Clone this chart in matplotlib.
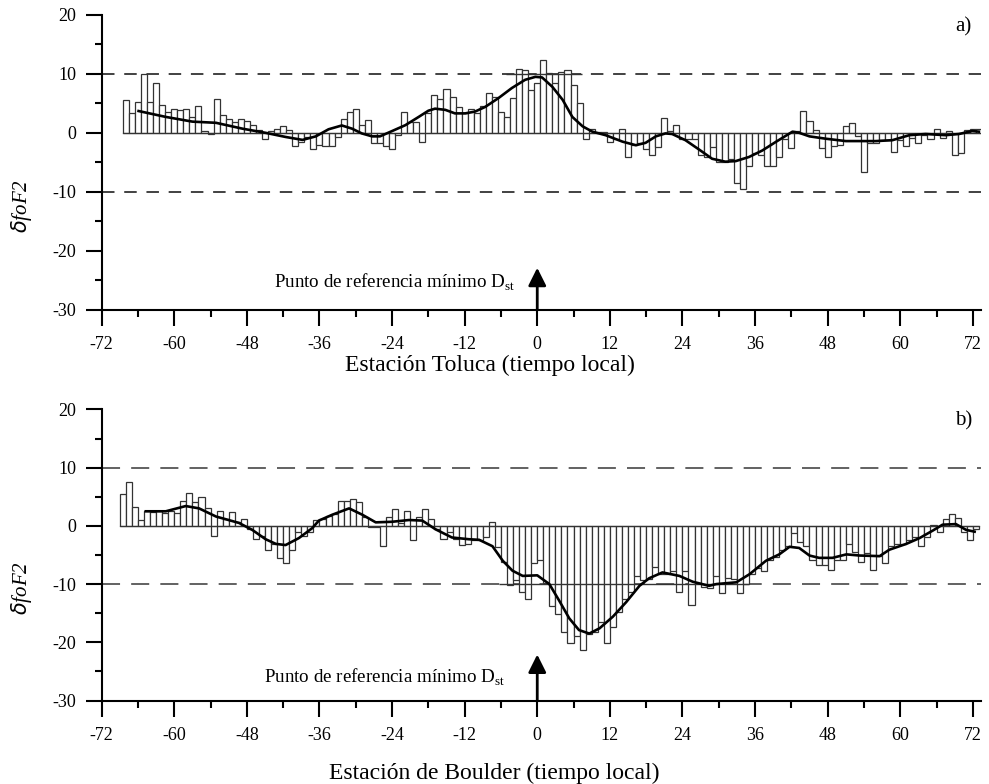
import numpy as np
import matplotlib
matplotlib.use("Agg")
import matplotlib.pyplot as plt

plt.rcParams["font.family"] = ["Liberation Serif", "DejaVu Serif"]
plt.rcParams["mathtext.fontset"] = "custom"
plt.rcParams["mathtext.rm"] = "Liberation Serif"
plt.rcParams["axes.unicode_minus"] = False
plt.rcParams["lines.scale_dashes"] = False

# ---- panel a: Toluca, hourly deviations (bars centred on the hour) ----
hours_a = np.arange(-68, 74)
dfof2_a = [
    5.5, 3.3, 5.3, 10.0, 5.3, 8.5, 4.7, 3.5, 4.1, 3.9,
    4.1, 2.7, 4.5, 0.3, -0.2, 5.7, 3.1, 2.3, 1.9, 2.3,
    2.0, 1.25, 0.5, -1.1, 0.3, 0.7, 1.1, 0.5, -2.3, -1.5,
    -0.7, -2.7, -2.1, -2.3, -2.3, -0.7, 2.3, 3.5, 4.1, 1.3,
    2.1, -1.7, -1.8, -2.3, -2.7, -0.3, 3.5, 1.9, 1.8, -1.6,
    3.3, 6.4, 5.7, 7.5, 6.1, 4.3, 3.3, 4.0, 3.3, 4.5,
    6.7, 6.1, 3.5, 2.7, 5.9, 10.9, 10.7, 7.2, 8.5, 12.4,
    10.1, 8.5, 10.3, 10.7, 8.1, 5.0, -1.0, 0.7, 0.2, 0.2,
    -1.5, -1.0, 0.7, -4.1, -2.1, -1.8, -2.7, -3.7, -2.4, 2.6,
    0.3, 1.3, -1.0, -1.0, -1.0, -3.8, -4.1, -2.4, -4.9, -4.9,
    -4.5, -8.5, -9.5, -5.7, -3.4, -3.8, -5.7, -5.7, -4.1, -1.0,
    -2.5, 0.3, 3.75, 2.0, 0.45, -2.5, -4.1, -2.3, -2.1, 1.1,
    1.6, -0.5, -6.6, -1.8, -1.8, -1.2, -1.2, -3.2, -1.2, -2.3,
    -0.8, -1.7, -0.3, -1.0, 0.6, -0.8, 0.3, -3.7, -3.5, 0.5,
    0.7, 0.6,
]
smooth_a_h = [
    -65.9, -61.4, -57.0, -53.1, -48.7, -44.9, -41.6, -38.8, -36.6, -34.5,
    -32.3, -30.6, -29.0, -27.3, -26.0, -24.0, -21.8, -19.6, -18.0, -16.9,
    -15.2, -13.6, -11.9, -10.3, -8.6, -6.4, -4.2, -2.0, -0.3, 0.8,
    2.5, 4.2, 5.8, 7.5, 9.1, 11.3, 14.1, 16.3, 17.9, 19.6,
    21.2, 22.3, 24.5, 26.7, 28.9, 31.1, 32.8, 35.0, 37.2, 39.5,
    42.2, 43.3, 45.0, 47.7, 51.0, 56.0, 58.7, 61.5, 64.2, 67.5,
    69.7, 71.9, 73.0,
]
smooth_a_v = [
    3.7, 2.7, 1.9, 1.7, 0.7, 0.0, -0.7, -1.2, -0.6, 0.6,
    1.25, 0.7, -0.1, -0.6, -0.6, 0.3, 1.3, 2.7, 3.75, 4.1,
    3.9, 3.3, 3.3, 3.6, 4.4, 5.9, 7.6, 9.0, 9.5, 9.4,
    7.8, 5.6, 2.7, 1.1, 0.2, -0.4, -1.5, -2.1, -1.7, -0.6,
    -0.1, -0.2, -1.25, -2.8, -4.4, -4.9, -4.8, -4.1, -3.0, -1.5,
    0.2, 0.0, -0.6, -1.0, -1.4, -1.4, -1.25, -0.4, -0.2, -0.4,
    -0.2, 0.3, 0.2,
]

# ---- panel b: Boulder (bars start on the hour) ----
hours_b = np.arange(-69, 73)
dfof2_b = [
    5.4, 7.6, 3.2, 1.0, 2.6, 2.3, 2.6, 2.2, 2.6, 2.2,
    4.3, 5.6, 4.1, 5.0, 3.0, -1.8, 2.5, 1.1, 2.3, 0.7,
    1.1, -0.6, -2.3, -1.8, -4.1, -3.1, -5.5, -6.4, -4.2, -1.1,
    -1.8, -1.1, 1.0, 1.1, 1.7, 2.1, 4.2, 4.2, 4.6, 4.1,
    1.5, -0.2, -0.2, -3.4, 1.5, 2.9, 0.5, 2.6, -2.4, 1.6,
    2.9, 1.1, -0.6, -2.3, -1.0, -2.3, -3.3, -3.1, -2.4, -2.4,
    -2.0, 0.7, -3.7, -6.2, -10.2, -9.3, -11.3, -12.5, -6.4, -5.8,
    -9.8, -13.7, -15.1, -18.3, -20.2, -19.0, -21.3, -18.6, -18.2, -16.5,
    -20.2, -17.3, -14.8, -12.5, -11.4, -8.6, -9.3, -9.2, -7.0, -8.3,
    -8.3, -7.7, -11.3, -7.7, -13.6, -9.8, -10.5, -10.7, -8.6, -11.5,
    -9.0, -9.2, -11.5, -10.0, -8.3, -7.2, -7.7, -5.8, -5.3, -4.1,
    -3.5, -1.2, -2.8, -3.5, -5.9, -6.8, -6.8, -7.5, -5.8, -5.9,
    -3.1, -4.5, -6.2, -4.7, -7.5, -5.2, -6.3, -3.5, -3.1, -3.2,
    -2.4, -1.9, -3.4, -1.9, 0.2, -1.0, 1.1, 2.0, 1.3, -1.0,
    -2.4, -0.5,
]
smooth_b_h = [
    -64.7, -61.4, -58.1, -55.9, -53.1, -49.3, -47.1, -44.9, -43.2, -41.6,
    -39.4, -37.2, -36.1, -33.9, -31.1, -28.9, -26.7, -24.0, -21.2, -19.0,
    -16.8, -14.1, -11.3, -9.6, -7.4, -5.7, -4.1, -2.4, 0.0, 2.0,
    3.6, 5.3, 6.9, 8.6, 10.3, 12.5, 14.7, 16.9, 18.5, 20.7,
    23.5, 25.7, 28.4, 29.6, 32.9, 35.1, 37.8, 40.0, 41.7, 43.3,
    45.0, 46.6, 48.8, 51.1, 53.3, 56.6, 58.2, 61.0, 63.2, 65.4,
    67.0, 69.2, 70.9, 72.3,
]
smooth_b_v = [
    2.5, 2.5, 3.4, 3.0, 1.6, 0.5, -0.7, -2.3, -3.1, -3.3,
    -2.1, -0.4, 0.9, 1.9, 3.0, 1.9, 0.6, 0.7, 1.0, 0.9,
    -0.6, -2.0, -2.3, -2.4, -3.5, -6.0, -7.7, -8.6, -8.5, -10.0,
    -12.8, -15.9, -17.9, -18.5, -17.6, -15.6, -13.1, -10.3, -9.0, -8.0,
    -8.6, -9.6, -10.3, -10.0, -9.7, -8.3, -6.0, -4.9, -3.6, -3.8,
    -5.1, -5.5, -5.5, -4.9, -5.1, -5.2, -4.1, -3.1, -2.1, -0.8,
    0.2, 0.3, -0.7, -1.0,
]

x_ticks = np.arange(-72, 73, 12)
y_ticks = np.arange(-30, 21, 10)
ref_text = r"Punto de referencia mínimo D$_{\mathregular{st}}$"

fig = plt.figure(figsize=(9.89, 7.84), dpi=100)
ax_a = fig.add_axes([0.1028, 0.6051, 0.8888, 0.3758])
ax_b = fig.add_axes([0.1028, 0.1065, 0.8888, 0.3713])


def draw_panel(ax, hours, vals, sh, sv, align, letter, solid_seg, solid_y, ylab_y,
               txt_x, txt_y, arrow_top, dash, dash_color):
    ax.bar(hours, vals, width=1.0, align=align, color="white",
           edgecolor="#333333", linewidth=0.9, zorder=2)
    left = hours[0] - (0.5 if align == "center" else 0.0)
    ax.plot([left, left + len(hours)], [0, 0], color="#333333", lw=0.9, zorder=2)
    for yv in (10, -10):
        ax.axhline(yv, color=dash_color, lw=1.3, linestyle=(0, dash), zorder=1)
    ax.hlines(solid_y, solid_seg[0], solid_seg[1], color="#333333", lw=1.0, zorder=3)
    ax.plot(sh, sv, color="black", lw=1.9, zorder=4)

    ax.set_xlim(-72, 73.3)
    ax.set_ylim(-30, 20)
    ax.set_xticks(x_ticks)
    ax.set_xticks(np.arange(-66, 73, 12), minor=True)
    ax.set_yticks(y_ticks)
    ax.set_yticks(np.arange(-25, 20, 10), minor=True)
    ax.spines["top"].set_visible(False)
    ax.spines["right"].set_visible(False)
    for s in ("left", "bottom"):
        ax.spines[s].set_linewidth(1.5)
    ax.tick_params(which="major", length=11.5, width=1.5, labelsize=13)
    ax.tick_params(which="minor", length=5, width=1.5)
    ax.tick_params(axis="x", which="major", pad=7.5)
    ax.tick_params(axis="y", which="major", pad=7)

    ax.text(-0.0907, ylab_y, r"$\delta$foF2", transform=ax.transAxes, rotation=90,
            ha="center", va="center", fontsize=15, style="italic")
    ax.text(0.99, 0.96, letter, transform=ax.transAxes, ha="right", va="center",
            fontsize=15)
    ax.text(txt_x, txt_y, ref_text, ha="right", va="center", fontsize=13.7)
    ax.annotate("", xy=(0, arrow_top), xytext=(0, -30),
                arrowprops=dict(arrowstyle="-|>,head_length=0.6,head_width=0.3",
                                color="black", lw=2, mutation_scale=18,
                                shrinkA=0, shrinkB=0), zorder=5)


draw_panel(ax_a, hours_a, dfof2_a, smooth_a_h, smooth_a_v, "center", "a)",
           (-5.2, 7.4), 10, 0.352, -3.6, -25.4, -22.9, (9, 7), "#333333")
draw_panel(ax_b, hours_b, dfof2_b, smooth_b_h, smooth_b_v, "edge", "b)",
           (-6.3, 35.0), -10, 0.386, -5.4, -26.1, -22.1, (13, 8), "#555555")

fig.text(490 / 989, 1 - 365 / 784, "Estación Toluca (tiempo local)",
         ha="center", va="center", fontsize=17)
fig.text(494 / 989, 1 - 773 / 784, "Estación de Boulder (tiempo local)",
         ha="center", va="center", fontsize=17)

fig.savefig("out.png", dpi=100)
